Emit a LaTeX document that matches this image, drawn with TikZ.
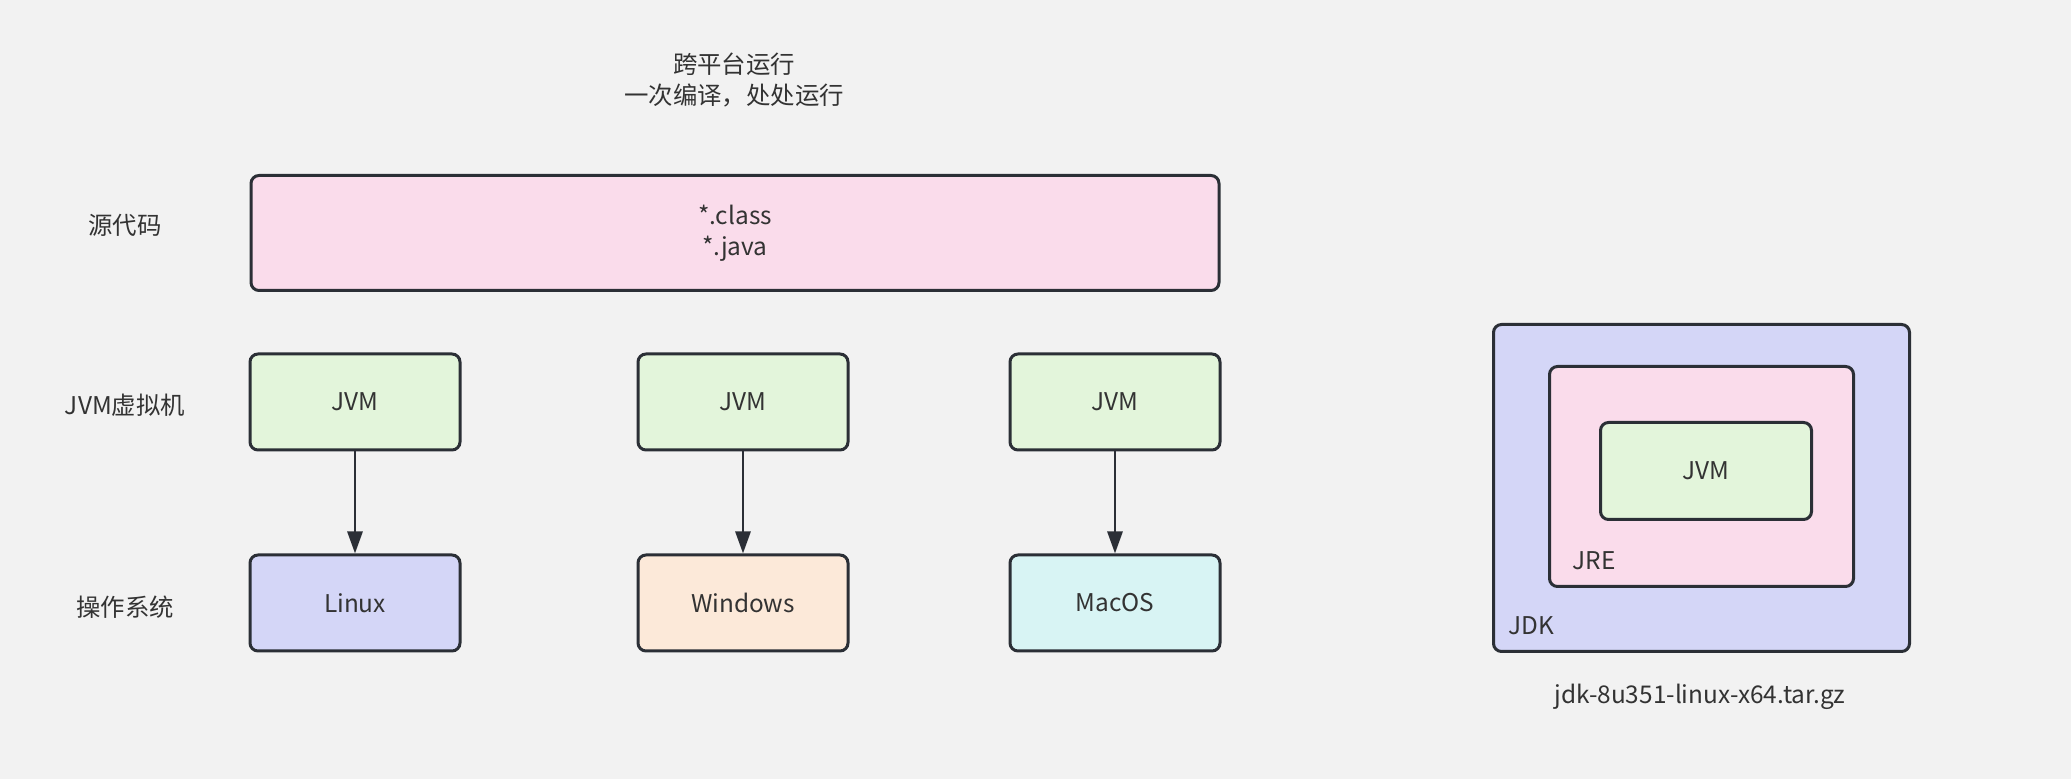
\documentclass[tikz,border=0pt]{standalone}
\usepackage{fontspec}
\setmainfont{Noto Sans CJK SC}
\usetikzlibrary{arrows.meta}

\definecolor{bgc}{RGB}{242,242,242}
\definecolor{linec}{RGB}{43,47,54}
\definecolor{textc}{RGB}{51,51,51}
\definecolor{pinkc}{RGB}{250,220,235}
\definecolor{greenc}{RGB}{227,245,219}
\definecolor{lavc}{RGB}{212,214,247}
\definecolor{peachc}{RGB}{252,233,217}
\definecolor{cyanc}{RGB}{216,244,244}

\tikzset{every picture/.style={line width=0.75pt}}
\tikzset{
  box/.style={draw=linec, line width=1.5pt, rounded corners=4pt, inner sep=0pt,
    text=textc, align=center, font=\fontsize{12.2}{15.5}\selectfont},
  smallbox/.style={box, minimum width=105pt, minimum height=48pt},
  lbl/.style={text=textc, inner sep=0pt, align=center, font=\fontsize{12.2}{15.5}\selectfont},
  link/.style={draw=linec, line width=1.4pt, -{Triangle[length=11pt,width=7.5pt]}}
}

\begin{document}
\begin{tikzpicture}[x=0.5pt,y=0.5pt,yscale=-1,xscale=1]
\fill [bgc] (0,0) rectangle (2071,779);
\useasboundingbox (0,0) rectangle (2071,779);

% Title
\node [lbl] (title) at (734,80) {跨平台运行\\一次编译，处处运行};

% Row labels
\node [lbl] (lsrc) at (125,225) {源代码};
\node [lbl] (ljvm) at (125,405) {JVM虚拟机};
\node [lbl] (los) at (125,607) {操作系统};

% Source code
\node [box, fill=pinkc, minimum width=484pt, minimum height=57.5pt] (src) at (735,233) {*.class\\*.java};

% JVM row
\node [smallbox, fill=greenc] (jvmA) at (355,402) {JVM};
\node [smallbox, fill=greenc] (jvmB) at (743,402) {JVM};
\node [smallbox, fill=greenc] (jvmC) at (1115,402) {JVM};

% OS row
\node [smallbox, fill=lavc] (linux) at (355,603) {Linux};
\node [smallbox, fill=peachc] (win) at (743,603) {Windows};
\node [smallbox, fill=cyanc] (mac) at (1115,603) {MacOS};

\draw [link] (jvmA) -- (linux);
\draw [link] (jvmB) -- (win);
\draw [link] (jvmC) -- (mac);

% JDK / JRE / JVM
\node [box, fill=lavc, minimum width=208pt, minimum height=163.5pt] (jdk) at (1701.5,488) {};
\node [box, fill=pinkc, minimum width=152pt, minimum height=110pt] (jre) at (1701.5,476.5) {};
\node [box, fill=greenc, minimum width=105.5pt, minimum height=48.5pt] (jvmD) at (1706,471) {JVM};
\node [lbl] (tjre) at (1594,561) {JRE};
\node [lbl] (tjdk) at (1531,626) {JDK};
\node [lbl] (pkg) at (1700,697) {jdk-8u351-linux-x64.tar.gz};

\end{tikzpicture}
\end{document}
